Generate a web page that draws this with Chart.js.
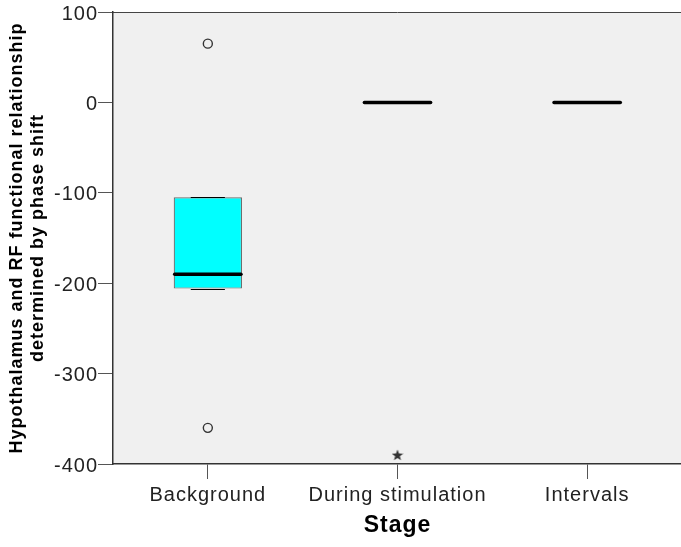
<!DOCTYPE html>
<html>
<head>
<meta charset="utf-8">
<script src="https://cdn.jsdelivr.net/npm/chart.js@4.4.1/dist/chart.umd.min.js"></script>
<style>
  html, body { margin: 0; padding: 0; background: #fff; overflow: hidden; }
  canvas { display: block; }
</style>
</head>
<body>
<canvas id="chart" width="689" height="547"></canvas>
<script>
// boxplot values
const categories = ['Background', 'During stimulation', 'Intervals'];
const q1 = [-206, 0, 0];
const q3 = [-105, 0, 0];
const medians = [-190, 0, 0];
const whiskerLow = [-206, 0, 0];
const whiskerHigh = [-105, 0, 0];
const outliers = [
    { x: 'Background', y: 65 },
    { x: 'Background', y: -360 }
];
const extremes = [
    { x: 'During stimulation', y: -390 }
];
const yTicks = [100, 0, -100, -200, -300, -400];

// small filled star for extreme values
const star = document.createElement('canvas');
star.width = 12; star.height = 12;
(function () {
    const c = star.getContext('2d');
    c.fillStyle = '#333';
    c.beginPath();
    for (let i = 0; i < 10; i++) {
        const r = i % 2 === 0 ? 6 : 2.5;
        const a = -Math.PI / 2 + i * Math.PI / 5;
        const px = 6 + r * Math.cos(a), py = 6.5 + r * Math.sin(a);
        if (i === 0) c.moveTo(px, py); else c.lineTo(px, py);
    }
    c.closePath();
    c.fill();
})();

// SPSS output has slightly spaced lettering
const spacing = {
    id: 'spacing',
    beforeUpdate(chart) { chart.ctx.letterSpacing = '1px'; },
    beforeDraw(chart) { chart.ctx.letterSpacing = '1px'; }
};

const boxPlugin = {
    id: 'boxParts',
    beforeDraw(chart) {
        const { ctx, chartArea: a } = chart;
        ctx.save();
        ctx.fillStyle = '#f0f0f0';
        ctx.fillRect(a.left, a.top, a.right - a.left, a.bottom - a.top);
        ctx.strokeStyle = '#444';
        ctx.lineWidth = 1;
        ctx.beginPath();
        ctx.moveTo(a.left, a.top + 0.5);
        ctx.lineTo(a.right, a.top + 0.5);
        ctx.lineTo(a.right, a.bottom);
        ctx.stroke();
        ctx.restore();
    },
    afterDatasetsDraw(chart) {
        const { ctx } = chart;
        const x = chart.scales.x, y = chart.scales.y;
        const meta = chart.getDatasetMeta(0);
        ctx.save();
        categories.forEach((c, i) => {
            const half = meta.data[i].width / 2;
            const cx = x.getPixelForValue(i);
            // whisker caps
            ctx.strokeStyle = '#000';
            ctx.lineWidth = 1;
            [whiskerLow[i], whiskerHigh[i]].forEach(v => {
                if (v === medians[i]) return;
                const py = Math.round(y.getPixelForValue(v)) + 0.5;
                ctx.beginPath();
                ctx.moveTo(cx - half / 2, py);
                ctx.lineTo(cx + half / 2, py);
                ctx.stroke();
            });
            // median
            const my = y.getPixelForValue(medians[i]);
            ctx.lineWidth = 3.5;
            ctx.lineCap = 'round';
            ctx.beginPath();
            ctx.moveTo(cx - half + 1, my);
            ctx.lineTo(cx + half - 1, my);
            ctx.stroke();
        });
        ctx.restore();
    }
};

const ctx = document.getElementById('chart').getContext('2d');

const the_chart = new Chart(ctx, {
    type: 'bar',
    data: {
        labels: categories,
        datasets: [
            {
                label: 'box',
                data: q1.map((v, i) => [v, q3[i]]),
                backgroundColor: '#00ffff',
                borderColor: '#6a6a6a',
                borderWidth: q1.map((v, i) => v === q3[i] ? 0 : 1.2),
                borderSkipped: false,
                barPercentage: 0.36,
                categoryPercentage: 1
            },
            {
                type: 'line',
                label: 'outliers',
                data: outliers,
                showLine: false,
                pointStyle: 'circle',
                pointRadius: 4.5,
                pointBorderWidth: 1.4,
                pointBorderColor: '#333',
                pointBackgroundColor: 'rgba(0,0,0,0)'
            },
            {
                type: 'line',
                label: 'extremes',
                data: extremes,
                showLine: false,
                pointStyle: star,
                pointRadius: 6
            }
        ]
    },
    options: {
        responsive: false,
        animation: false,
        layout: { padding: { top: 12, right: 0, left: 0, bottom: 0 } },
        plugins: {
            legend: { display: false },
            tooltip: { enabled: false }
        },
        scales: {
            x: {
                type: 'category',
                offset: true,
                grid: { display: true, drawOnChartArea: false, drawTicks: true, tickLength: 15, color: '#555', offset: false },
                border: { display: true, color: '#333', width: 1.5 },
                ticks: {
                    color: '#222',
                    padding: 4,
                    font: { family: 'Liberation Sans, Arial', size: 20 }
                },
                title: {
                    display: true,
                    text: 'Stage',
                    color: '#000',
                    font: { family: 'Liberation Sans, Arial', size: 23, weight: 'bold' },
                    padding: { top: 0, bottom: 8 }
                },
                afterFit(scale) { scale.height = 83; }
            },
            y: {
                min: -400,
                max: 100,
                afterBuildTicks(scale) { scale.ticks = yTicks.map(v => ({ value: v })); },
                grid: { display: true, drawOnChartArea: false, drawTicks: true, tickLength: 15, color: '#555' },
                border: { display: true, color: '#333', width: 1.5 },
                ticks: {
                    color: '#222',
                    padding: 0,
                    labelOffset: 2,
                    font: { family: 'Liberation Sans, Arial', size: 20 }
                },
                title: {
                    display: true,
                    text: ['Hypothalamus and RF functional relationship', 'determined by phase shift'],
                    color: '#000',
                    font: { family: 'Liberation Sans, Arial', size: 18, weight: 'bold', lineHeight: 1.15 },
                    padding: { top: 7, bottom: 0 }
                },
                afterFit(scale) { scale.width = 113; }
            }
        }
    },
    plugins: [spacing, boxPlugin]
});
</script>
</body>
</html>
